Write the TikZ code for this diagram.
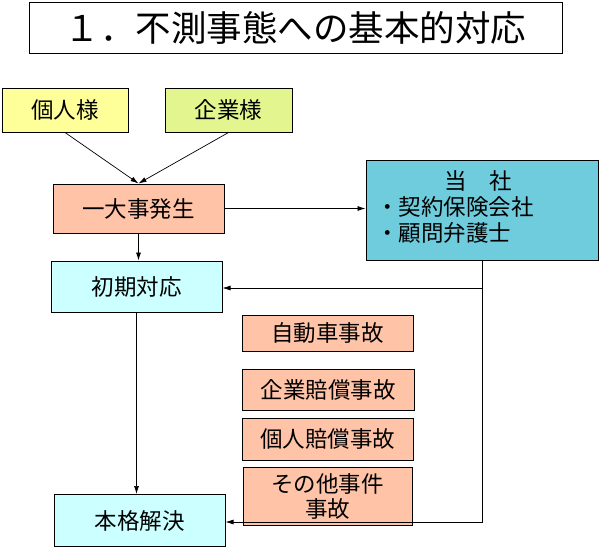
\documentclass[tikz,border=0pt]{standalone}
\usepackage{fontspec}
\setmainfont{Noto Sans CJK JP}
\usetikzlibrary{arrows.meta}
\definecolor{kojinyellow}{HTML}{FFFF99}
\definecolor{kigyogreen}{HTML}{E2F58E}
\definecolor{jikosalmon}{HTML}{FFC4A8}
\definecolor{toshablue}{HTML}{6ECCDD}
\definecolor{taioucyan}{HTML}{CCFFFF}
\tikzset{
  box/.style={draw, line width=1pt, rectangle, inner sep=0pt, align=center,
    font=\fontsize{22.5}{25}\selectfont},
  flow/.style={line width=0.7pt, -{Latex[length=8pt,width=5pt]}}
}

\begin{document}
\begin{tikzpicture}[x=1pt,y=-1pt]
\useasboundingbox (0,0) rectangle (600,547);

\node[box, minimum width=533pt, minimum height=51pt,
      font=\fontsize{35.5}{38}\selectfont] (title) at (295.5,27.5) {１．不測事態への基本的対応};

\node[box, fill=kojinyellow, minimum width=126pt, minimum height=44pt] (kojin) at (65,110) {個人様};
\node[box, fill=kigyogreen, minimum width=127pt, minimum height=44pt] (kigyo) at (228.5,110) {企業様};
\node[box, fill=jikosalmon, minimum width=171pt, minimum height=49pt] (hassei) at (138.5,208.5) {一大事発生};
\node[box, fill=toshablue, minimum width=232pt, minimum height=100pt] (tosha) at (482,210) {};
\node[align=left, font=\fontsize{22.5}{26}\selectfont, anchor=north west, inner sep=0pt] (tosha-text) at (376,170)
     {\hspace*{68pt}当　社\\・契約保険会社\\・顧問弁護士};
\node[box, fill=taioucyan, minimum width=171pt, minimum height=51pt] (shoki) at (136.5,286.5) {初期対応};

\node[box, fill=jikosalmon, minimum width=171pt, minimum height=36pt] (jidosha) at (327.5,333) {自動車事故};
\node[box, fill=jikosalmon, minimum width=172pt, minimum height=41pt] (kigyo-baisho) at (328,389.5) {企業賠償事故};
\node[box, fill=jikosalmon, minimum width=171pt, minimum height=42pt] (kojin-baisho) at (327.5,439) {個人賠償事故};
\node[box, fill=jikosalmon, minimum width=169pt, minimum height=58pt] (sonota) at (327.5,496) {その他事件\\事故};

\node[box, fill=taioucyan, minimum width=171pt, minimum height=52pt] (honkaku) at (139.5,520.5) {本格解決};

\coordinate (bend-1) at (482,288);
\coordinate (bend-2) at (482,522);

\draw[flow] (kojin.south) -- (hassei.north);
\draw[flow] (kigyo.south) -- (hassei.north);
\draw[flow] (hassei.east) -- (tosha.west |- hassei.east);
\draw[flow] (hassei.south) -- (shoki.north -| hassei.south);
\draw[flow] (tosha.south) -- (bend-1) -- (shoki.east |- bend-1);
\draw[flow] (bend-1) -- (bend-2) -- (honkaku.east |- bend-2);
\draw[flow] (shoki.south) -- (honkaku.north -| shoki.south);
\end{tikzpicture}
\end{document}
